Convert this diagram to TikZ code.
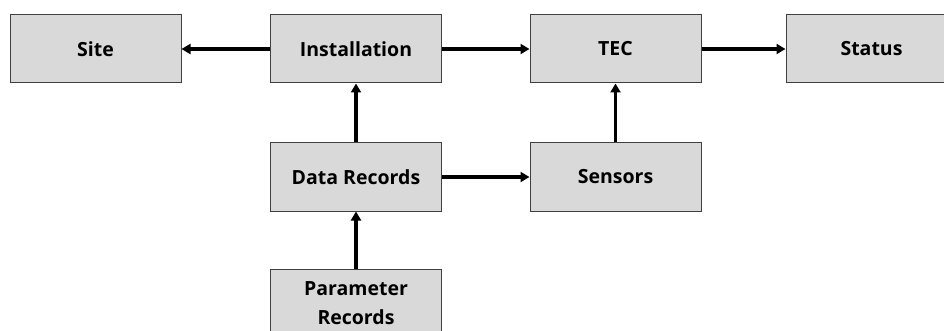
\documentclass[tikz,border=0pt]{standalone}
\usepackage{fontspec}
\setmainfont{Open Sans}
\usetikzlibrary{arrows.meta}
\begin{document}
\begin{tikzpicture}[x=1pt,y=-1pt,
  box/.style={draw=black!75, line width=1pt, fill=black!15,
    minimum width=171pt, minimum height=68pt, inner sep=0pt,
    align=center, font=\fontsize{19.5}{29}\selectfont\bfseries},
  link/.style={line width=3.2pt, -{Triangle[length=9pt,width=10pt]}}]
\useasboundingbox (0,0) rectangle (944,331);
\clip (0,0) rectangle (944,331);
\node[box] (site) at (95.5,49) {Site};
\node[box] (inst) at (356,49) {Installation};
\node[box] (tec) at (615.5,49) {TEC};
\node[box] (status) at (871.5,49) {Status};
\node[box] (data) at (356,177) {Data Records};
\node[box] (sens) at (615.5,177) {Sensors};
\node[box] (param) at (356,303) {Parameter\\Records};
\draw[link] (inst) -- (site);
\draw[link] (inst) -- (tec);
\draw[link] (tec) -- (status);
\draw[link] (data) -- (inst);
\draw[link] (data) -- (sens);
\draw[link] (sens) -- (tec);
\draw[link] (param) -- (data);
\end{tikzpicture}
\end{document}
